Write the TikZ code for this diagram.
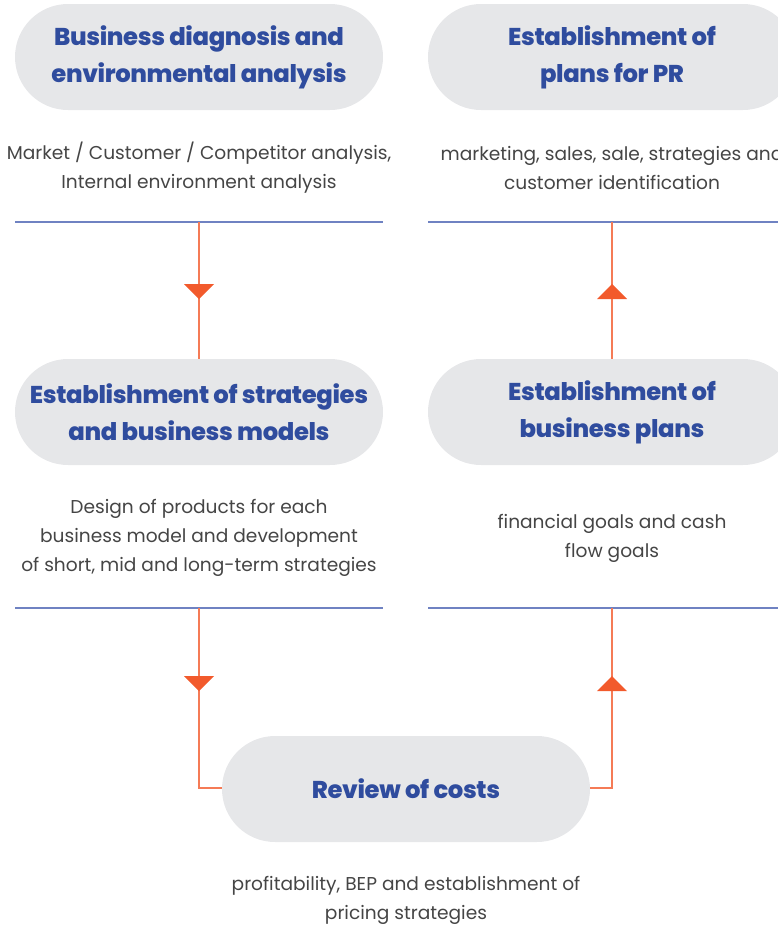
\documentclass[tikz,border=0pt]{standalone}
\usepackage{fontspec}
\setmainfont{Poppins}
\newfontfamily\titlefont{Poppins}[UprightFont={* ExtraBold}, LetterSpace=-1.5]
\usetikzlibrary{arrows.meta}
\definecolor{pillgray}{HTML}{E6E7E9}
\definecolor{titleblue}{HTML}{2F4C9E}
\definecolor{descgray}{HTML}{454545}
\definecolor{lineblue}{HTML}{6F82C2}
\definecolor{orangec}{HTML}{F25A2C}
\tikzset{
  pill/.style={fill=pillgray, rounded corners=53pt, minimum width=368pt, minimum height=106pt, inner sep=0pt,
    align=center, text=titleblue, font=\fontsize{24.3}{37}\selectfont\titlefont},
  desc/.style={align=center, text=descgray, inner sep=0pt, font=\fontsize{18.6}{29}\selectfont},
  rule/.style={draw=lineblue, line width=1.3pt},
  conn/.style={draw=orangec!80, line width=1.3pt},
  tipdown/.style={draw=none, fill=orangec},
}
\begin{document}
\begin{tikzpicture}[x=1pt,y=-1pt]
\useasboundingbox (0,0) rectangle (778,951);
\clip (0,0) rectangle (778,951);
% pills
\node[pill] (tl) at (199,57) {Business diagnosis and\\environmental analysis};
\node[pill] (tr) at (612,57) {Establishment of\\plans for PR};
\node[pill] (ml) at (199,412) {Establishment of strategies\\and business models};
\node[pill] (mr) at (612,412) {Establishment of\\business plans};
\node[pill] (bc) at (406,789) {Review of costs};
% descriptions
\node[desc] (dtl) at (199,168) {Market / Customer / Competitor analysis,\\Internal environment analysis};
\node[desc] (dtr) at (612,168) {marketing, sales, sale, strategies and\\customer identification};
\node[desc] (dml) at (199,538) {Design of products for each\\business model and development\\of short, mid and long-term strategies};
\node[desc] (dmr) at (612,538) {financial goals and cash\\flow goals};
\node[desc] (dbc) at (406,900) {profitability, BEP and establishment of\\pricing strategies};
% blue rules
\coordinate (r1a) at (15,222); \coordinate (r1b) at (383,222);
\coordinate (r2a) at (428,222); \coordinate (r2b) at (778,222);
\coordinate (r3a) at (15,608); \coordinate (r3b) at (383,608);
\coordinate (r4a) at (428,608); \coordinate (r4b) at (778,608);
\draw[rule] (r1a) -- (r1b);
\draw[rule] (r2a) -- (r2b);
\draw[rule] (r3a) -- (r3b);
\draw[rule] (r4a) -- (r4b);
% connector points
\coordinate (c1) at (199,222);
\coordinate (c2) at (612,222);
\coordinate (c3) at (199,608);
\coordinate (c4) at (612,608);
\coordinate (k3) at (199,788);
\coordinate (k4) at (612,788);
% connectors
\draw[conn] (c1) -- (ml.north);
\draw[conn] (mr.north) -- (c2);
\draw[conn] (c3) -- (k3) -- (bc.west |- k3);
\draw[conn] (bc.east |- k4) -- (k4) -- (c4);
% arrowheads
\fill[tipdown] (184,284) -- (214,284) -- (199,299) -- cycle;
\fill[tipdown] (597,299) -- (627,299) -- (612,284) -- cycle;
\fill[tipdown] (184,676) -- (214,676) -- (199,691) -- cycle;
\fill[tipdown] (597,691) -- (627,691) -- (612,676) -- cycle;
\end{tikzpicture}
\end{document}
